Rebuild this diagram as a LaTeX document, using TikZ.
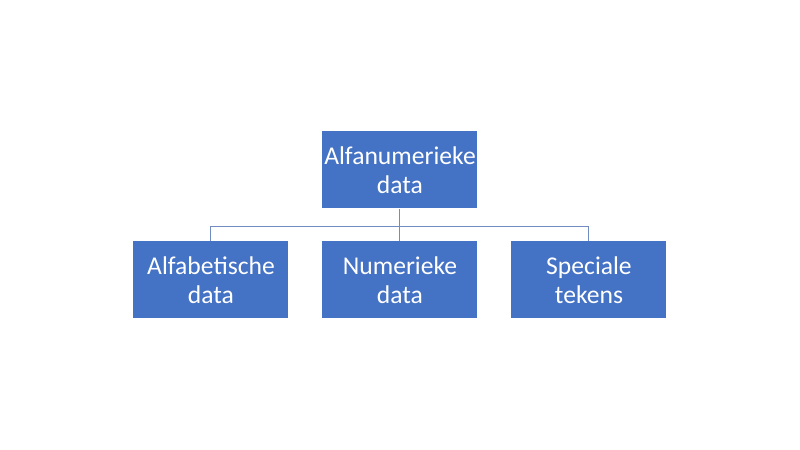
\documentclass[tikz,border=0pt]{standalone}
\usepackage{fontspec}
\setmainfont{Carlito}
\usetikzlibrary{positioning, calc}

\definecolor{boxblue}{HTML}{4472C4}
\definecolor{linkblue}{RGB}{112,140,192}

\begin{document}
\begin{tikzpicture}[node distance=94.5pt, on grid,
    databox/.style={rectangle, fill=boxblue, text=white, minimum width=77.5pt,
        minimum height=38.5pt, inner sep=0pt, align=center,
        font=\fontsize{12.8}{14.3}\selectfont},
    link/.style={draw=linkblue, line width=0.5pt}]
    \useasboundingbox (-200pt,85pt) rectangle (200pt,-140pt);

    \node[databox] (alnum) at (0,0) {Alfanumerieke\\data};
    \node[databox] (num) [below=55pt of alnum] {Numerieke\\data};
    \node[databox] (alpha) [left=of num] {Alfabetische\\data};
    \node[databox] (spec) [right=of num] {Speciale\\tekens};

    \coordinate (bus) at ($(alnum.south)!0.55!(num.north)$);
    \path[link] (alnum.south) -- (num.north);
    \path[link] (alpha.north) |- (bus) -| (spec.north);
\end{tikzpicture}
\end{document}
